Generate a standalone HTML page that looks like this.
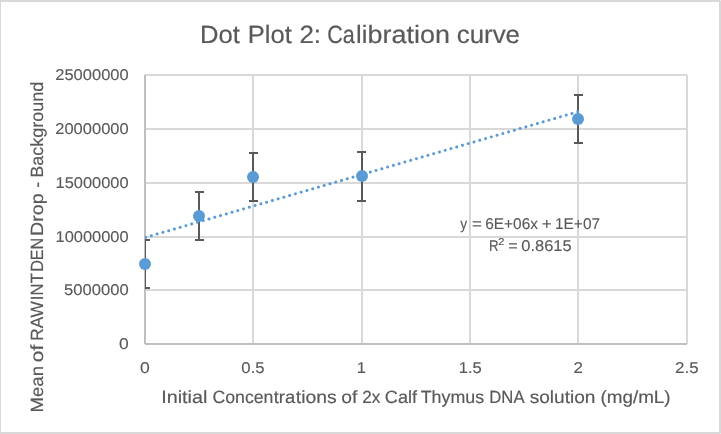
<!DOCTYPE html>
<html><head><meta charset="utf-8"><title>Dot Plot 2: Calibration curve</title>
<style>html,body{margin:0;padding:0;background:#fff;}svg{display:block;will-change:transform;}text{font-family:"Liberation Sans",sans-serif;fill:#595959;stroke:#595959;text-rendering:geometricPrecision;}</style></head><body>
<svg width="721" height="434" viewBox="0 0 721 434">
<rect x="0" y="0" width="721" height="434" fill="#ffffff"/>
<g fill="#d9d9d9" shape-rendering="crispEdges">
<rect x="0" y="0" width="721" height="2"/><rect x="0" y="432" width="721" height="2"/><rect x="0" y="0" width="1" height="434"/><rect x="719" y="0" width="2" height="434"/></g>
<g fill="#ebebeb" shape-rendering="crispEdges"><rect x="720" y="0" width="1" height="1"/><rect x="720" y="433" width="1" height="1"/></g>
<g fill="#d9d9d9" shape-rendering="crispEdges">
<rect x="145" y="74" width="542" height="2"/>
<rect x="145" y="128" width="542" height="2"/>
<rect x="145" y="182" width="542" height="2"/>
<rect x="145" y="236" width="542" height="2"/>
<rect x="145" y="289" width="542" height="2"/>
<rect x="252" y="75" width="2" height="269"/>
<rect x="361" y="75" width="2" height="269"/>
<rect x="469" y="75" width="2" height="269"/>
<rect x="577" y="75" width="2" height="269"/>
<rect x="686" y="75" width="2" height="269"/>
</g>
<g fill="#bfbfbf" shape-rendering="crispEdges"><rect x="145" y="343" width="542" height="2"/><rect x="144" y="75" width="2" height="269"/></g>
<g fill="#595959" shape-rendering="crispEdges">
<rect x="145" y="239" width="1" height="50"/>
<rect x="145" y="239" width="5" height="2"/>
<rect x="145" y="287" width="5" height="2"/>
<rect x="198" y="191" width="2" height="50"/>
<rect x="195" y="191" width="9" height="2"/>
<rect x="195" y="239" width="9" height="2"/>
<rect x="252" y="152" width="2" height="50"/>
<rect x="249" y="152" width="9" height="2"/>
<rect x="249" y="200" width="9" height="2"/>
<rect x="361" y="151" width="2" height="51"/>
<rect x="357" y="151" width="9" height="2"/>
<rect x="357" y="200" width="9" height="2"/>
<rect x="577" y="94" width="2" height="50"/>
<rect x="574" y="94" width="9" height="2"/>
<rect x="574" y="142" width="9" height="2"/>
</g>
<clipPath id="pc"><rect x="145" y="60" width="560" height="300"/></clipPath>
<line x1="145.6" y1="237.4" x2="578.6" y2="111.55" stroke="#5b9bd5" stroke-width="3" stroke-linecap="round" stroke-dasharray="0.01 5.99" clip-path="url(#pc)"/>
<g fill="#5b9bd5">
<circle cx="145" cy="264" r="6"/>
<circle cx="199" cy="216" r="6"/>
<circle cx="253" cy="177" r="6"/>
<circle cx="362" cy="176" r="6"/>
<circle cx="578" cy="119" r="6"/>
</g>
<text x="200.13" y="42.80" font-size="25.0" textLength="39.78" lengthAdjust="spacingAndGlyphs" stroke-width="0.2">Dot</text>
<text x="247.83" y="42.80" font-size="25.0" textLength="44.03" lengthAdjust="spacingAndGlyphs" stroke-width="0.2">Plot</text>
<text x="299.40" y="42.80" font-size="25.0" textLength="21.70" lengthAdjust="spacingAndGlyphs" stroke-width="0.2">2:</text>
<text x="327.17" y="42.80" font-size="25.0" textLength="27.55" lengthAdjust="spacingAndGlyphs" stroke-width="0.2">Ca</text>
<text x="356.00" y="42.80" font-size="25.0" textLength="11.31" lengthAdjust="spacingAndGlyphs" stroke-width="0.2">li</text>
<text x="367.55" y="42.80" font-size="25.0" textLength="82.36" lengthAdjust="spacingAndGlyphs" stroke-width="0.2">bration</text>
<text x="456.75" y="42.80" font-size="25.0" textLength="63.23" lengthAdjust="spacingAndGlyphs" stroke-width="0.2">curve</text>
<text x="161.24" y="402.80" font-size="17.7" textLength="46.16" lengthAdjust="spacingAndGlyphs" stroke-width="0.18">Initial</text>
<text x="212.41" y="402.80" font-size="17.7" textLength="61.03" lengthAdjust="spacingAndGlyphs" stroke-width="0.18">Concen</text>
<text x="273.67" y="402.80" font-size="17.7" textLength="21.55" lengthAdjust="spacingAndGlyphs" stroke-width="0.18">tra</text>
<text x="295.89" y="402.80" font-size="17.7" textLength="40.90" lengthAdjust="spacingAndGlyphs" stroke-width="0.18">tions</text>
<text x="341.20" y="402.80" font-size="17.7" textLength="16.09" lengthAdjust="spacingAndGlyphs" stroke-width="0.18">of</text>
<text x="362.20" y="402.80" font-size="17.7" textLength="18.04" lengthAdjust="spacingAndGlyphs" stroke-width="0.18">2x</text>
<text x="384.86" y="402.80" font-size="17.7" textLength="32.19" lengthAdjust="spacingAndGlyphs" stroke-width="0.18">Calf</text>
<text x="420.74" y="402.80" font-size="17.7" textLength="63.38" lengthAdjust="spacingAndGlyphs" stroke-width="0.18">Thymus</text>
<text x="489.30" y="402.80" font-size="17.7" textLength="35.23" lengthAdjust="spacingAndGlyphs" stroke-width="0.18">DNA</text>
<text x="529.69" y="402.80" font-size="17.7" textLength="65.80" lengthAdjust="spacingAndGlyphs" stroke-width="0.18">solution</text>
<text x="600.48" y="402.80" font-size="17.7" textLength="70.16" lengthAdjust="spacingAndGlyphs" stroke-width="0.18">(mg/mL)</text>
<text transform="translate(43.40,412.43) rotate(-90)" font-size="17.7" textLength="46.39" lengthAdjust="spacingAndGlyphs" stroke-width="0.18">Mean</text>
<text transform="translate(43.40,362.14) rotate(-90)" font-size="17.7" textLength="17.33" lengthAdjust="spacingAndGlyphs" stroke-width="0.18">of</text>
<text transform="translate(43.40,340.73) rotate(-90)" font-size="17.7" textLength="39.55" lengthAdjust="spacingAndGlyphs" stroke-width="0.18">RAW</text>
<text transform="translate(43.40,300.13) rotate(-90)" font-size="17.7" textLength="27.09" lengthAdjust="spacingAndGlyphs" stroke-width="0.18">INT</text>
<text transform="translate(43.40,271.86) rotate(-90)" font-size="17.7" textLength="34.15" lengthAdjust="spacingAndGlyphs" stroke-width="0.18">DEN</text>
<text transform="translate(43.40,235.90) rotate(-90)" font-size="17.7" textLength="42.68" lengthAdjust="spacingAndGlyphs" stroke-width="0.18">Drop</text>
<text transform="translate(43.40,187.82) rotate(-90)" font-size="17.7" textLength="5.91" lengthAdjust="spacingAndGlyphs" stroke-width="0.18">-</text>
<text transform="translate(43.40,177.87) rotate(-90)" font-size="17.7" textLength="96.18" lengthAdjust="spacingAndGlyphs" stroke-width="0.18">Background</text>
<text x="55.29" y="79.90" font-size="15.7" textLength="73.38" lengthAdjust="spacingAndGlyphs" stroke-width="0.12">25000000</text>
<text x="55.29" y="133.90" font-size="15.7" textLength="73.38" lengthAdjust="spacingAndGlyphs" stroke-width="0.12">20000000</text>
<text x="55.49" y="187.90" font-size="15.7" textLength="73.16" lengthAdjust="spacingAndGlyphs" stroke-width="0.12">15000000</text>
<text x="55.49" y="241.90" font-size="15.7" textLength="73.16" lengthAdjust="spacingAndGlyphs" stroke-width="0.12">10000000</text>
<text x="64.14" y="294.90" font-size="15.7" textLength="64.59" lengthAdjust="spacingAndGlyphs" stroke-width="0.12">5000000</text>
<text x="119.11" y="348.90" font-size="15.7" textLength="9.70" lengthAdjust="spacingAndGlyphs" stroke-width="0.12">0</text>
<text x="140.06" y="372.50" font-size="15.7" textLength="9.73" lengthAdjust="spacingAndGlyphs" stroke-width="0.12">0</text>
<text x="241.37" y="372.50" font-size="15.7" textLength="23.22" lengthAdjust="spacingAndGlyphs" stroke-width="0.12">0.5</text>
<text x="356.86" y="372.50" font-size="15.7" textLength="9.25" lengthAdjust="spacingAndGlyphs" stroke-width="0.12">1</text>
<text x="458.81" y="372.50" font-size="15.7" textLength="23.05" lengthAdjust="spacingAndGlyphs" stroke-width="0.12">1.5</text>
<text x="573.53" y="372.50" font-size="15.7" textLength="9.42" lengthAdjust="spacingAndGlyphs" stroke-width="0.12">2</text>
<text x="675.04" y="372.50" font-size="15.7" textLength="23.51" lengthAdjust="spacingAndGlyphs" stroke-width="0.12">2.5</text>
<text x="460.17" y="228.60" font-size="15.7" textLength="6.86" lengthAdjust="spacingAndGlyphs" stroke-width="0.12">y</text>
<text x="472.09" y="228.60" font-size="15.7" textLength="9.95" lengthAdjust="spacingAndGlyphs" stroke-width="0.12">=</text>
<text x="485.22" y="228.60" font-size="15.7" textLength="52.69" lengthAdjust="spacingAndGlyphs" stroke-width="0.12">6E+06x</text>
<text x="541.69" y="228.60" font-size="15.7" textLength="9.97" lengthAdjust="spacingAndGlyphs" stroke-width="0.12">+</text>
<text x="555.01" y="228.60" font-size="15.7" textLength="45.06" lengthAdjust="spacingAndGlyphs" stroke-width="0.12">1E+07</text>
<text x="489.02" y="250.60" font-size="15.7" textLength="9.59" lengthAdjust="spacingAndGlyphs" stroke-width="0.12">R</text>
<text x="498.39" y="245.00" font-size="9.89" textLength="6.14" lengthAdjust="spacingAndGlyphs" stroke-width="0.12">2</text>
<text x="508.15" y="250.60" font-size="15.7" textLength="9.52" lengthAdjust="spacingAndGlyphs" stroke-width="0.12">=</text>
<text x="521.24" y="250.60" font-size="15.7" textLength="50.43" lengthAdjust="spacingAndGlyphs" stroke-width="0.12">0.8615</text>
</svg></body></html>
